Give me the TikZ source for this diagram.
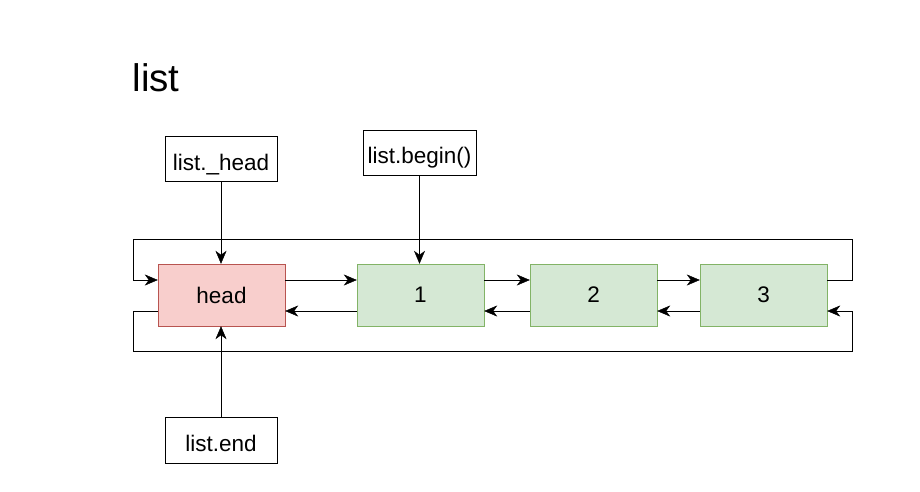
\documentclass[tikz,border=0pt]{standalone}
\usepackage{fontspec}
\setmainfont{Liberation Sans}
\usetikzlibrary{arrows.meta,positioning}
\definecolor{headfill}{HTML}{F8CECC}
\definecolor{headline}{HTML}{B85450}
\definecolor{cellfill}{HTML}{D5E8D4}
\definecolor{cellline}{HTML}{82B366}
\tikzset{line width=1pt,
  every node/.style={font=\fontsize{22.5}{27}\selectfont},
  cell/.style={draw=cellline,fill=cellfill,minimum width=127pt,minimum height=62pt,inner sep=0pt},
  headcell/.style={cell,draw=headline,fill=headfill},
  ptrbox/.style={draw,minimum width=112pt,minimum height=45pt,inner sep=0pt,text height=22pt,text depth=0pt},
  link/.style={-{Stealth[length=13pt,width=11pt,inset=4pt]}}}

\begin{document}
\begin{tikzpicture}[x=1pt,y=-1pt]
\useasboundingbox (0,0) rectangle (920,491);
\node[font=\fontsize{38.5}{46}\selectfont] (title) at (156,78) {list};
% list cells
\node[headcell] (head) at (221.5,295) {head};
\node[cell] (n1) at (420.5,295) {1};
\node[cell] (n2) at (593.5,295) {2};
\node[cell] (n3) at (763.5,295) {3};
% pointers
\node[ptrbox] (lhead) at (221,159) {list.\_head};
\node[ptrbox,minimum width=113pt] (lbegin) at (419.5,152.5) {list.begin()};
\node[ptrbox,minimum height=46pt] (lend) at (221,440) {list.end};
% loop corners
\coordinate (tl) at (133,239);\coordinate (tr) at (852,239);
\coordinate (bl) at (133,351);\coordinate (br) at (852,351);
% next / prev
\foreach \a/\b in {head/n1,n1/n2,n2/n3} {
  \draw[link] ([yshift=15pt]\a.east) -- ([yshift=15pt]\b.west);
  \draw[link] ([yshift=-16pt]\b.west) -- ([yshift=-16pt]\a.east);
}
\draw[link] ([yshift=15pt]n3.east) -| (tr) -- (tl) |- ([yshift=15pt]head.west);
\draw[link] ([yshift=-16pt]head.west) -| (bl) -- (br) |- ([yshift=-16pt]n3.east);
\draw[link] (lhead.south) -- (lhead.south |- head.north);
\draw[link] (lbegin.south) -- (lbegin.south |- n1.north);
\draw[link] (lend.north) -- (lend.north |- head.south);
\end{tikzpicture}
\end{document}
